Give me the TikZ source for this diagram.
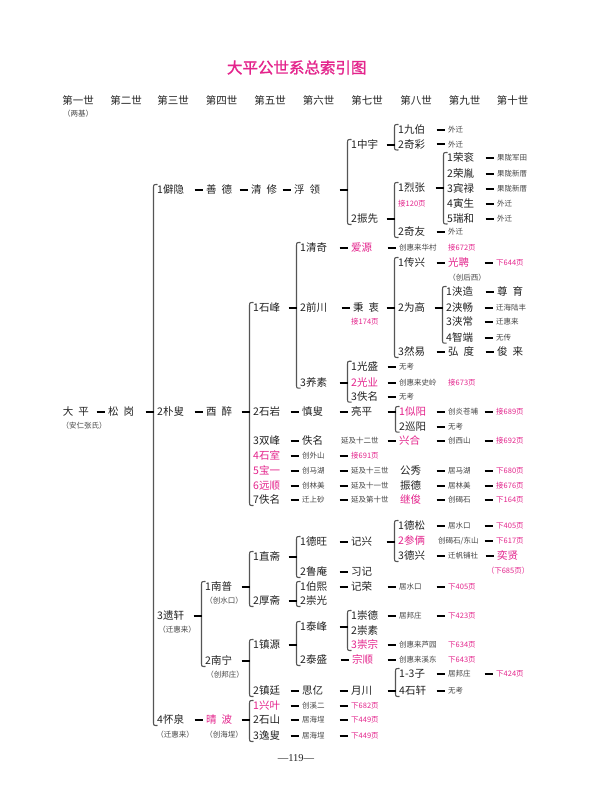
\documentclass[tikz,border=0pt]{standalone}
\usepackage{fontspec}
\setmainfont{Noto Sans CJK SC}
\newfontfamily\ttlfont[FakeBold=1.2]{Noto Sans CJK SC}
\newfontfamily\pgfont{Liberation Serif}
\usetikzlibrary{calc}
\definecolor{ink}{HTML}{222222}
\definecolor{gry}{HTML}{444444}
\definecolor{mag}{HTML}{E4248C}
\definecolor{brc}{HTML}{555555}
\tikzset{
 nm/.style={anchor=west, inner sep=0, text=ink, font=\fontsize{10.5}{12}\selectfont, text height=9pt, text depth=1.2pt},
 sm/.style={anchor=west, inner sep=0, text=gry, font=\fontsize{7.5}{9}\selectfont, text height=6.5pt, text depth=0.8pt},
 nt/.style={sm, anchor=center},
 mg/.style={text=mag},
 bar/.style={line width=2pt, draw=black},
 brk/.style={line width=1.1pt, draw=brc},
 hd/.style={inner sep=0, text=ink, font=\fontsize{10.5}{12}\selectfont},
}
\newcommand\g{\hspace{5pt}}
\newcommand\lk[2]{\draw[bar] (#1.east -| #2.west) ++(-11.5,0) -- ++(8,0);}
\newcommand\br[2]{\draw[brk] ($(#1.west)+(0.5,-5.5)$) .. controls ($(#1.west)+(-3.5,-5.5)$) .. ($(#1.west)+(-3.5,-1.5)$) -- ($(#1.west |- #2.west)+(-3.5,1.5)$) .. controls ($(#1.west |- #2.west)+(-3.5,5.5)$) .. ($(#1.west |- #2.west)+(0.5,5.5)$);}
\begin{document}
\begin{tikzpicture}[x=1pt,y=-1pt]
\useasboundingbox[fill=white] (0,0) rectangle (594,805);
\node[inner sep=0, text=mag, font=\ttlfont\fontsize{15.5}{17}\selectfont] (title) at (296.7,67.5) {大平公世系总索引图};
\foreach \n/\x/\t in {h1/78/第一世,h2/126/第二世,h3/173/第三世,h4/221.5/第四世,h5/270/第五世,h6/318.7/第六世,h7/367/第七世,h8/416/第八世,h9/464.7/第九世,h10/512.7/第十世}
  \node[hd] (\n) at (\x,100) {\t};
\node[nt] (h1n) at (78,114) {（两基）};
% gen 1-2
\node[nm] (g1) at (62.7,411.7) {大\g 平};
\node[nt] (g1n) at (84,426) {（安仁张氏）};
\node[nm] (g2) at (108,411.7) {松\g 岗};
\lk{g1}{g2}
% gen 3
\node[nm] (a1) at (157,190) {1僻隐};
\node[nm] (a2) at (157,412) {2朴叟};
\node[nm] (a3) at (157,616) {3遗轩};
\node[nm] (a4) at (157,720) {4怀泉};
\node[nt] (a3n) at (177,630) {（迁惠来）};
\node[nt] (a4n) at (175,735) {（迁惠来）};
\br{a1}{a4} \lk{g2}{a2}
% ===== branch 1
\node[nm] (b1) at (206,190) {善\g 德};
\node[nm] (c1) at (251,190) {清\g 修};
\node[nm] (d1) at (294,190) {浮\g 领};
\lk{a1}{b1} \lk{b1}{c1} \lk{c1}{d1}
\node[nm] (e1) at (351,145) {1中宇};
\node[nm] (e2) at (351,219) {2振先};
\br{e1}{e2} \lk{d1}{e1}
\node[nm] (f1) at (398,130) {1九伯};
\node[nm] (f2) at (398,144.5) {2奇彩};
\br{f1}{f2} \lk{e1}{f1}
\node[sm] (f1a) at (448,130) {外迁}; \lk{f1}{f1a}
\node[sm] (f2a) at (448,144.5) {外迁}; \lk{f2}{f2a}
\node[nm] (f3) at (398,188) {1烈张};
\node[sm,mg] (f3n) at (398,204) {接120页};
\node[nm] (f4) at (398,232) {2奇友};
\br{f3}{f4} \lk{e2}{f3}
\node[sm] (f4a) at (448,232) {外迁}; \lk{f4}{f4a}
\node[nm] (k1) at (447,158) {1荣衮};
\node[nm] (k2) at (447,174) {2荣胤};
\node[nm] (k3) at (447,189) {3宾禄};
\node[nm] (k4) at (447,204) {4寅生};
\node[nm] (k5) at (447,218.5) {5瑞和};
\br{k1}{k5} \lk{f3}{k1}
\node[sm] (k1a) at (497,158) {果陇军田}; \lk{k1}{k1a}
\node[sm] (k2a) at (497,174) {果陇新厝}; \lk{k2}{k2a}
\node[sm] (k3a) at (497,189) {果陇新厝}; \lk{k3}{k3a}
\node[sm] (k4a) at (497,204) {外迁}; \lk{k4}{k4a}
\node[sm] (k5a) at (497,218.5) {外迁}; \lk{k5}{k5a}
% ===== branch 2
\node[nm] (b2) at (206,412) {酉\g 醉}; \lk{a2}{b2}
\node[nm] (c21) at (253,308) {1石峰};
\node[nm] (c22) at (253,412) {2石岩};
\node[nm] (c23) at (253,441) {3双峰};
\node[nm,mg] (c24) at (253,456) {4石室};
\node[nm,mg] (c25) at (253,471) {5宝一};
\node[nm,mg] (c26) at (253,486) {6远顺};
\node[nm] (c27) at (253,500) {7佚名};
\br{c21}{c27} \lk{b2}{c21}
\node[nm] (d21) at (300,248) {1清奇};
\node[nm] (d22) at (300,308) {2前川};
\node[nm] (d23) at (300,382.7) {3养素};
\br{d21}{d23} \lk{c21}{d21}
\node[nm,mg] (e21) at (351,248) {爱源}; \lk{d21}{e21}
\node[sm] (e21a) at (399,248) {创惠来华村}; \lk{e21}{e21a}
\node[sm,mg] (e21b) at (448,248) {接672页};
\node[nm] (e22) at (353,308) {秉\g 衷}; \lk{d22}{e22}
\node[sm,mg] (e22n) at (351,321.7) {接174页};
\node[nm] (f21) at (398,263) {1传兴};
\node[nm] (f22) at (398,308) {2为高};
\node[nm] (f23) at (398,352) {3然易};
\br{f21}{f23} \lk{e22}{f21}
\node[nm,mg] (g21) at (448,263) {光聘}; \lk{f21}{g21}
\node[nt] (g21n) at (467,277.7) {（创后西）};
\node[sm,mg] (g21a) at (496,263) {下644页}; \lk{g21}{g21a}
\node[nm] (g22) at (446,292) {1浃造};
\node[nm] (g23) at (446,307.7) {2浃畅};
\node[nm] (g24) at (446,322) {3浃常};
\node[nm] (g25) at (446,337.7) {4智端};
\br{g22}{g25} \lk{f22}{g22}
\node[nm] (g22a) at (497,292) {尊\g 育}; \lk{g22}{g22a}
\node[sm] (g23a) at (496,307.7) {迁海陆丰}; \lk{g23}{g23a}
\node[sm] (g24a) at (496,322) {迁惠来}; \lk{g24}{g24a}
\node[sm] (g25a) at (496,337.7) {无传}; \lk{g25}{g25a}
\node[nm] (g26) at (448,352) {弘\g 度}; \lk{f23}{g26}
\node[nm] (g26a) at (497,352) {俊\g 来}; \lk{g26}{g26a}
\node[nm] (e23) at (351,366.7) {1光盛};
\node[nm,mg] (e24) at (351,382.7) {2光业};
\node[nm] (e25) at (351,396.7) {3佚名};
\br{e23}{e25} \lk{d23}{e23}
\node[sm] (e23a) at (399,366.7) {无考}; \lk{e23}{e23a}
\node[sm] (e24a) at (399,382.7) {创惠来史岭}; \lk{e24}{e24a}
\node[sm,mg] (e24b) at (448,382.7) {接673页};
\node[sm] (e25a) at (399,396.7) {无考}; \lk{e25}{e25a}
% 2石岩
\node[nm] (d24) at (302,412) {慎叟}; \lk{c22}{d24}
\node[nm] (e26) at (351,412) {亮平}; \lk{d24}{e26}
\node[nm,mg] (f24) at (399,412) {1似阳};
\node[nm] (f25) at (399,426.7) {2巡阳};
\br{f24}{f25} \lk{e26}{f24}
\node[sm] (f24a) at (448,412) {创炎苍埔}; \lk{f24}{f24a}
\node[sm,mg] (f24b) at (496,412) {接689页}; \lk{f24a}{f24b}
\node[sm] (f25a) at (448,426.7) {无考}; \lk{f25}{f25a}
% 3双峰
\node[nm] (d25) at (302,441) {佚名}; \lk{c23}{d25}
\node[sm] (e27) at (341,441) {延及十二世};
\node[nm,mg] (f26) at (399,441) {兴合}; \lk{e27}{f26}
\node[sm] (f26a) at (448,441) {创西山}; \lk{f26}{f26a}
\node[sm,mg] (f26b) at (496,441) {接692页}; \lk{f26a}{f26b}
% 4石室
\node[sm] (d26) at (302,456) {创外山}; \lk{c24}{d26}
\node[sm,mg] (e28) at (351,456) {接691页}; \lk{d26}{e28}
% 5宝一
\node[sm] (d27) at (302,471) {创马湖}; \lk{c25}{d27}
\node[sm] (e29) at (351,471) {延及十三世}; \lk{d27}{e29}
\node[nm] (f27) at (400,471) {公秀};
\node[sm] (f27a) at (448,471) {居马湖}; \lk{f27}{f27a}
\node[sm,mg] (f27b) at (496,471) {下680页}; \lk{f27a}{f27b}
% 6远顺
\node[sm] (d28) at (302,486) {创林美}; \lk{c26}{d28}
\node[sm] (e30) at (351,486) {延及十一世}; \lk{d28}{e30}
\node[nm] (f28) at (400,486) {振德};
\node[sm] (f28a) at (448,486) {居林美}; \lk{f28}{f28a}
\node[sm,mg] (f28b) at (496,486) {接676页}; \lk{f28a}{f28b}
% 7佚名
\node[sm] (d29) at (302,500) {迁上砂}; \lk{c27}{d29}
\node[sm] (e31x) at (351,500) {延及第十世}; \lk{d29}{e31x}
\node[nm,mg] (f29) at (400,500) {继俊};
\node[sm] (f29a) at (448,500) {创碣石}; \lk{f29}{f29a}
\node[sm,mg] (f29b) at (496,500) {下164页}; \lk{f29a}{f29b}
% ===== branch 3
\node[nm] (b31) at (205,587) {1南普};
\node[nt] (b31n) at (224,601) {（创水口）};
\node[nm] (b32) at (205,661) {2南宁};
\node[nt] (b32n) at (225,674.5) {（创邦庄）};
\br{b31}{b32} \lk{a3}{b31}
\node[nm] (c31) at (253,557) {1直斋};
\node[nm] (c32) at (253,601) {2厚斋};
\br{c31}{c32} \lk{b31}{c31}
\node[nm] (d31) at (300,542) {1德旺};
\node[nm] (d32) at (300,572) {2鲁庵};
\br{d31}{d32} \lk{c31}{d31}
\node[nm] (e31) at (351,542) {记兴}; \lk{d31}{e31}
\node[nm] (e32) at (351,572) {习记}; \lk{d32}{e32}
\node[nm] (f31) at (398,526) {1德松};
\node[nm,mg] (f32) at (398,541) {2参俩};
\node[nm] (f33) at (398,556) {3德兴};
\br{f31}{f33} \lk{e31}{f31}
\node[sm] (f31a) at (448,526) {居水口}; \lk{f31}{f31a}
\node[sm,mg] (f31b) at (496,526) {下405页}; \lk{f31a}{f31b}
\node[sm] (f32a) at (438,541) {创碣石/东山};
\node[sm,mg] (f32b) at (496,541) {下617页}; \lk{f32a}{f32b}
\node[sm] (f33a) at (448,556) {迁帆铺社}; \lk{f33}{f33a}
\node[nm,mg] (f33b) at (497,556) {奕贤}; \lk{f33a}{f33b}
\node[nt,mg] (f33n) at (508,571) {（下685页）};
\node[nm] (d33) at (300,587) {1伯熙};
\node[nm] (d34) at (300,601) {2崇光};
\br{d33}{d34} \lk{c32}{d33}
\node[nm] (e33) at (351,587) {记荣}; \lk{d33}{e33}
\node[sm] (e33a) at (399,587) {居水口}; \lk{e33}{e33a}
\node[sm,mg] (e33b) at (448,587) {下405页}; \lk{e33a}{e33b}
\node[nm] (c33) at (253,645) {1镇源};
\node[nm] (c34) at (253,691) {2镇廷};
\br{c33}{c34} \lk{b32}{c33}
\node[nm] (d35) at (300,627) {1泰峰};
\node[nm] (d36) at (300,660) {2泰盛};
\br{d35}{d36} \lk{c33}{d35}
\node[nm] (e35) at (351,616) {1崇德};
\node[nm] (e36) at (351,630.7) {2崇素};
\node[nm,mg] (e37) at (351,645) {3崇宗};
\br{e35}{e37} \lk{d35}{e35}
\node[sm] (e35a) at (399,616) {居邦庄}; \lk{e35}{e35a}
\node[sm,mg] (e35b) at (448,616) {下423页}; \lk{e35a}{e35b}
\node[sm] (e37a) at (399,645) {创惠来芦园}; \lk{e37}{e37a}
\node[sm,mg] (e37b) at (448,645) {下634页};
\node[nm,mg] (e38) at (352,660) {宗顺}; \lk{d36}{e38}
\node[sm] (e38a) at (399,660) {创惠来溪东}; \lk{e38}{e38a}
\node[sm,mg] (e38b) at (448,660) {下643页};
\node[nm] (d37) at (302,691) {思亿}; \lk{c34}{d37}
\node[nm] (e39) at (351,691) {月川}; \lk{d37}{e39}
\node[nm] (f34) at (399,674) {1-3子};
\node[nm] (f35) at (399,691) {4石轩};
\br{f34}{f35} \lk{e39}{f34}
\node[sm] (f34a) at (448,674) {居邦庄}; \lk{f34}{f34a}
\node[sm,mg] (f34b) at (496,674) {下424页}; \lk{f34a}{f34b}
\node[sm] (f35a) at (448,691) {无考}; \lk{f35}{f35a}
% ===== branch 4
\node[nm,mg] (b4) at (206,720) {晴\g 波}; \lk{a4}{b4}
\node[nt] (b4n) at (224,735) {（创海埕）};
\node[nm,mg] (c41) at (253,706) {1兴叶};
\node[nm] (c42) at (253,720) {2石山};
\node[nm] (c43) at (253,736) {3逸叟};
\br{c41}{c43} \lk{b4}{c41}
\node[sm] (d41) at (302,706) {创溪二}; \lk{c41}{d41}
\node[sm,mg] (e41) at (351,706) {下682页}; \lk{d41}{e41}
\node[sm] (d42) at (302,720) {居海埕}; \lk{c42}{d42}
\node[sm,mg] (e42) at (351,720) {下449页}; \lk{d42}{e42}
\node[sm] (d43) at (302,736) {居海埕}; \lk{c43}{d43}
\node[sm,mg] (e43) at (351,736) {下449页}; \lk{d43}{e43}
\node[inner sep=0, text=ink, font=\pgfont\fontsize{10.5}{12}\selectfont] (pg) at (296,758) {—119—};
\end{tikzpicture}
\end{document}
